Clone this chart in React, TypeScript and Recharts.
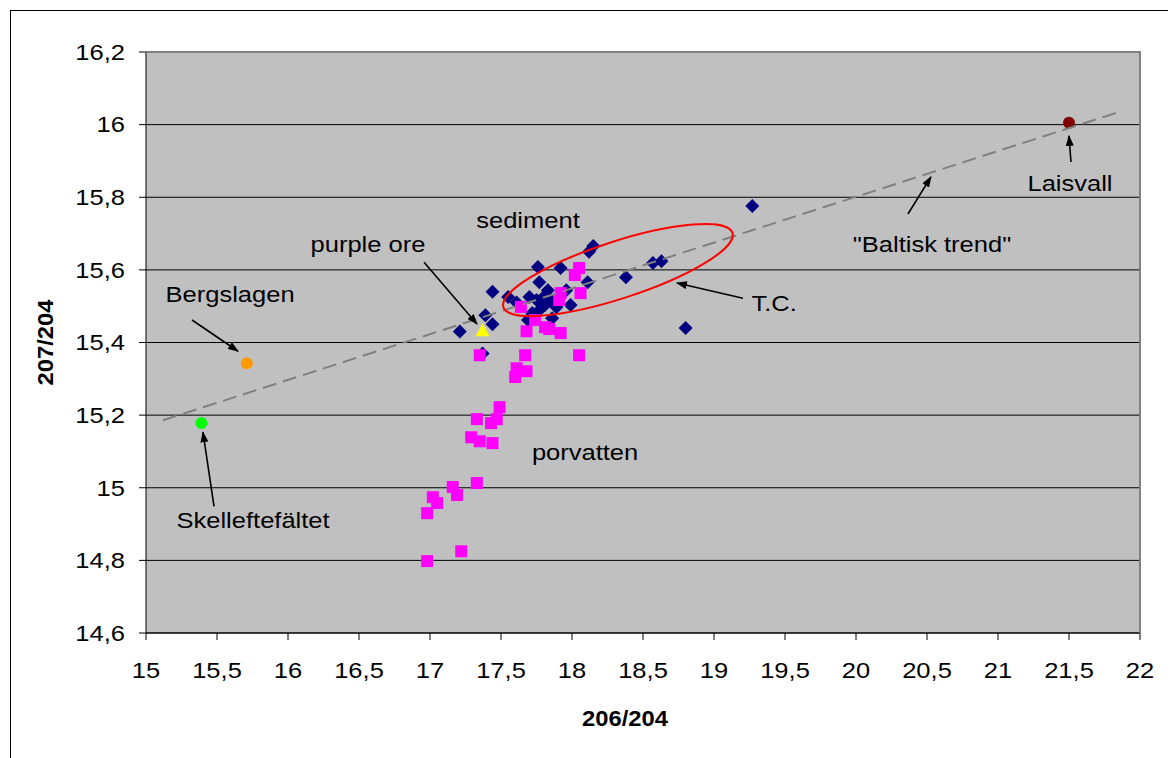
import React from "react";
import { ScatterChart, Scatter, XAxis, YAxis, CartesianGrid, ReferenceArea } from "recharts";

// axis ticks
const xTicks = [15, 15.5, 16, 16.5, 17, 17.5, 18, 18.5, 19, 19.5, 20, 20.5, 21, 21.5, 22];
const yTicks = [14.6, 14.8, 15, 15.2, 15.4, 15.6, 15.8, 16, 16.2];

// T.C. samples (206/204, 207/204)
const tcPoints: [number, number][] = [
  [17.21, 15.43], [17.37, 15.37], [17.39, 15.475], [17.44, 15.45], [17.44, 15.54],
  [17.55, 15.525], [17.61, 15.51], [17.7, 15.525], [17.75, 15.517], [17.8, 15.525],
  [17.85, 15.517], [17.81, 15.503], [17.89, 15.497], [17.99, 15.503], [17.96, 15.544],
  [17.83, 15.544], [17.77, 15.566], [17.76, 15.608], [17.92, 15.605], [18.11, 15.566],
  [18.12, 15.65], [18.15, 15.666], [17.69, 15.462], [17.86, 15.467], [17.77, 15.489],
  [17.72, 15.481], [18.38, 15.58], [18.57, 15.619], [18.63, 15.624], [18.8, 15.44],
  [19.27, 15.776],
];

// porvatten samples
const porvattenPoints: [number, number][] = [
  [18.05, 15.605], [18.02, 15.586], [18.06, 15.536], [17.92, 15.536], [17.91, 15.517],
  [17.64, 15.498], [17.74, 15.462], [17.68, 15.431], [17.81, 15.442], [17.84, 15.437],
  [17.92, 15.426], [17.35, 15.365], [17.67, 15.365], [18.05, 15.365], [17.61, 15.329],
  [17.68, 15.321], [17.6, 15.305], [17.49, 15.222], [17.33, 15.189], [17.47, 15.189],
  [17.43, 15.178], [17.29, 15.139], [17.35, 15.128], [17.44, 15.123], [17.33, 15.013],
  [17.16, 15.002], [17.19, 14.98], [17.02, 14.974], [17.05, 14.958], [16.98, 14.93],
  [17.22, 14.825], [16.98, 14.798],
];

const purpleOre: [number, number][] = [[17.37, 15.431]];
const bergslagen: [number, number][] = [[15.71, 15.343]];
const skelleftefaltet: [number, number][] = [[15.39, 15.178]];
const laisvall: [number, number][] = [[21.5, 16.005]];

// "Baltisk trend" line and T.C. ellipse (data units)
const trendLine: [number, number][] = [[15.12, 15.186], [21.87, 16.037]];
const ellipseAxis: [number, number][] = [[17.517, 15.497], [19.13, 15.702]];

// text annotations and arrows (data units)
const labels: { text: string; at: [number, number] }[] = [
  { text: "sediment", at: [17.69, 15.737] },
  { text: "purple ore", at: [16.563, 15.671] },
  { text: "Bergslagen", at: [15.592, 15.533] },
  { text: "Skelleftefältet", at: [15.754, 14.911] },
  { text: "porvatten", at: [18.092, 15.098] },
  { text: "T.C.", at: [19.423, 15.509] },
  { text: "\"Baltisk trend\"", at: [20.535, 15.671] },
  { text: "Laisvall", at: [21.507, 15.839] },
];
const arrows: [number, number, number, number][] = [
  [16.958, 15.621, 17.331, 15.451],
  [15.324, 15.462, 15.648, 15.376],
  [15.479, 14.949, 15.401, 15.153],
  [19.204, 15.522, 18.739, 15.564],
  [20.366, 15.754, 20.528, 15.856],
  [21.514, 15.897, 21.5, 15.969],
];

const X_MIN = 15, X_MAX = 22, Y_MIN = 14.6, Y_MAX = 16.2;
const STRETCH = 1.16; // the original text is drawn a bit wide
const toXY = (pts: [number, number][]) => pts.map(([x, y]) => ({ x, y }));
const fmt = (v: number) => String(v).replace(".", ",");

// text that is stretched horizontally around its anchor point
function WideText({ x, y, anchor = "middle", dy, bold, rotate, sx = STRETCH, children }: any) {
  return (
    <g transform={`translate(${x},${y})${rotate ? ` rotate(${rotate})` : ""} scale(${sx},1)`}>
      <text x={0} y={0} dy={dy} textAnchor={anchor} fontSize={22} fontWeight={bold ? "bold" : "normal"} fill="#000">
        {children}
      </text>
    </g>
  );
}

const XTick = (p: any) => <WideText x={p.x} y={p.y} dy="0.71em">{fmt(p.payload.value)}</WideText>;
const YTick = (p: any) => <WideText x={p.x} y={p.y} dy="0.355em" anchor="end">{fmt(p.payload.value)}</WideText>;

const Diamond = (p: any) => (
  <polygon points={`${p.cx},${p.cy - 7} ${p.cx + 7},${p.cy} ${p.cx},${p.cy + 7} ${p.cx - 7},${p.cy}`} fill="#000080" />
);
const Square = (p: any) => <rect x={p.cx - 6} y={p.cy - 6} width={12} height={12} fill="#FF00FF" />;
const Triangle = (p: any) => (
  <polygon points={`${p.cx},${p.cy - 8} ${p.cx + 7},${p.cy + 5} ${p.cx - 7},${p.cy + 5}`} fill="#FFFF00" />
);
const dot = (color: string) => (p: any) => <circle cx={p.cx} cy={p.cy} r={6} fill={color} />;

function Overlay(props: any) {
  const { x, y, width, height } = props;
  const sx = (v: number) => x + ((v - X_MIN) / (X_MAX - X_MIN)) * width;
  const sy = (v: number) => y + ((Y_MAX - v) / (Y_MAX - Y_MIN)) * height;

  const [e1, e2] = ellipseAxis;
  const ex1 = sx(e1[0]), ey1 = sy(e1[1]), ex2 = sx(e2[0]), ey2 = sy(e2[1]);
  const ecx = (ex1 + ex2) / 2, ecy = (ey1 + ey2) / 2;
  const ang = (Math.atan2(ey2 - ey1, ex2 - ex1) * 180) / Math.PI;
  const rx = Math.hypot(ex2 - ex1, ey2 - ey1) / 2;

  return (
    <g>
      <defs>
        <marker id="arrowHead" markerWidth={11} markerHeight={8} refX={10} refY={4} orient="auto" markerUnits="userSpaceOnUse">
          <path d="M0,0 L11,4 L0,8 z" fill="#000" />
        </marker>
      </defs>
      <line
        x1={sx(trendLine[0][0])} y1={sy(trendLine[0][1])}
        x2={sx(trendLine[1][0])} y2={sy(trendLine[1][1])}
        stroke="#808080" strokeWidth={2} strokeDasharray="14 7"
      />
      <ellipse cx={ecx} cy={ecy} rx={rx} ry={28.5} transform={`rotate(${ang} ${ecx} ${ecy})`} fill="none" stroke="#FF0000" strokeWidth={2} />
      {arrows.map(([a, b, c, d], i) => (
        <line key={i} x1={sx(a)} y1={sy(b)} x2={sx(c)} y2={sy(d)} stroke="#000" strokeWidth={1.6} markerEnd="url(#arrowHead)" />
      ))}
      {labels.map((l) => (
        <WideText key={l.text} x={sx(l.at[0])} y={sy(l.at[1])} dy="0.355em">
          {l.text}
        </WideText>
      ))}
      {/* plot area frame, top and right */}
      <path d={`M${x},${y} H${x + width} V${y + height}`} fill="none" stroke="#808080" strokeWidth={2} />
    </g>
  );
}

export default function App() {
  return (
    <div style={{ padding: "2px 0 0 2px", fontFamily: "'Liberation Sans', Arial, sans-serif" }}>
      <div style={{ width: 1160, height: 762, border: "1px solid #000", boxSizing: "border-box", background: "#fff" }}>
        <ScatterChart width={1158} height={760} margin={{ top: 41, right: 29, left: 0, bottom: 58 }}>
          <CartesianGrid horizontal vertical={false} fill="#C0C0C0" stroke="#000" strokeOpacity={1} />
          <XAxis
            type="number"
            dataKey="x"
            domain={[X_MIN, X_MAX]}
            ticks={xTicks}
            height={80}
            tickSize={7}
            tickMargin={22}
            axisLine={{ stroke: "#000" }}
            tickLine={{ stroke: "#000" }}
            tick={XTick}
            label={(p: any) => (
              <WideText x={p.viewBox.x + 479} y={p.viewBox.y + 85} dy="0.355em" bold sx={1.08}>
                206/204
              </WideText>
            )}
          />
          <YAxis
            type="number"
            dataKey="y"
            domain={[Y_MIN, Y_MAX]}
            ticks={yTicks}
            width={135}
            tickSize={7}
            tickMargin={14}
            axisLine={{ stroke: "#000" }}
            tickLine={{ stroke: "#000" }}
            tick={YTick}
            label={(p: any) => (
              <WideText x={34} y={p.viewBox.y + p.viewBox.height / 2} dy="0.355em" bold rotate={-90} sx={1.08}>
                207/204
              </WideText>
            )}
          />
          <Scatter data={toXY(tcPoints)} shape={Diamond} isAnimationActive={false} />
          <Scatter data={toXY(porvattenPoints)} shape={Square} isAnimationActive={false} />
          <Scatter data={toXY(purpleOre)} shape={Triangle} isAnimationActive={false} />
          <Scatter data={toXY(bergslagen)} shape={dot("#FF9900")} isAnimationActive={false} />
          <Scatter data={toXY(skelleftefaltet)} shape={dot("#00FF00")} isAnimationActive={false} />
          <Scatter data={toXY(laisvall)} shape={dot("#800000")} isAnimationActive={false} />
          <ReferenceArea
            x1={X_MIN} x2={X_MAX} y1={Y_MIN} y2={Y_MAX}
            ifOverflow="visible"
            shape={Overlay}
            {...({ zIndex: 2000 } as any)}
          />
        </ScatterChart>
      </div>
    </div>
  );
}
